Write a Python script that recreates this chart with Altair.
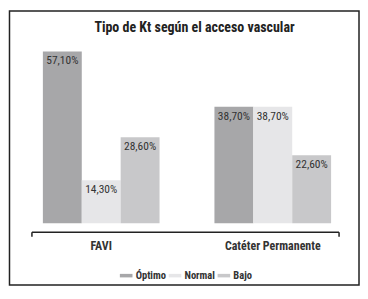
import altair as alt
import pandas as pd

categories = ["FAVI", "Catéter Permanente"]
series = ["Óptimo", "Normal", "Bajo"]
favi_values = [57.1, 14.3, 28.6]
cateter_values = [38.7, 38.7, 22.6]
colors = ["#a7a7a9", "#e6e6e8", "#c8c8ca"]
title_text = "Tipo de Kt según el acceso vascular"

rows = []
for cat, vals in zip(categories, [favi_values, cateter_values]):
    for s, v in zip(series, vals):
        rows.append({"cat": cat, "serie": s, "valor": v,
                     "etiqueta": f"{v:.2f}".replace(".", ",") + "%"})
df = pd.DataFrame(rows)

FONT = "Roboto Condensed, Open Sans Condensed, sans-serif"
W, H = 309, 181

x_enc = alt.X("cat:N", sort=categories, title=None,
              scale=alt.Scale(paddingInner=0.32, paddingOuter=0.058),
              axis=alt.Axis(domain=False, ticks=False, labelAngle=0,
                            labelPadding=17, labelBaseline="top",
                            labelFont=FONT, labelFontSize=12,
                            labelColor="#333", labelFontWeight="bold"))
xo_enc = alt.XOffset("serie:N", sort=series)
y_enc = alt.Y("valor:Q", scale=alt.Scale(domain=[0, 60]), axis=None)

base = alt.Chart(df)

bars = base.mark_bar(size=39).encode(
    x=x_enc, xOffset=xo_enc, y=y_enc,
    color=alt.Color("serie:N", sort=series,
                    scale=alt.Scale(domain=series, range=colors),
                    legend=alt.Legend(title=None, orient="none",
                                      legendX=87, legendY=227,
                                      direction="horizontal",
                                      symbolType="M-1,-0.28H1V0.28H-1Z",
                                      symbolSize=160, symbolStrokeWidth=0,
                                      labelFont=FONT, labelFontSize=10.5,
                                      labelFontWeight="bold",
                                      labelColor="#333", labelOffset=3,
                                      columnPadding=2, symbolOpacity=1)),
)

labels = base.mark_text(baseline="top", dy=4, font=FONT, fontSize=11.5,
                        color="#333").encode(
    x=x_enc, xOffset=xo_enc, y=y_enc, text="etiqueta:N")

one = alt.Data(values=[{"a": 1}])

border = alt.Chart(one).mark_rect(fill="transparent", stroke="#222",
                                  strokeWidth=1.5).encode(
    x=alt.value(-23.5), x2=alt.value(327), y=alt.value(-32), y2=alt.value(243))

bracket = alt.Chart(one).mark_rule(color="#222", strokeWidth=1.5).encode(
    x=alt.value(-1), x2=alt.value(307), y=alt.value(190))
tick_l = alt.Chart(one).mark_rule(color="#222", strokeWidth=1.5).encode(
    x=alt.value(-1), y=alt.value(190), y2=alt.value(194.5))
tick_r = alt.Chart(one).mark_rule(color="#222", strokeWidth=1.5).encode(
    x=alt.value(307), y=alt.value(190), y2=alt.value(194.5))

title = alt.Chart(one).mark_text(font=FONT, fontSize=14, fontWeight="bold",
                                 color="#222", baseline="middle").encode(
    x=alt.value(162), y=alt.value(-14.5), text=alt.value(title_text))

chart = alt.layer(border, bars, labels, bracket, tick_l, tick_r, title).properties(
    width=W, height=H,
    padding={"left": 0, "top": 1.5, "right": 0, "bottom": 0},
).configure_view(stroke=None)

chart.save("out.html", embed_options={"renderer": "svg", "actions": False})
